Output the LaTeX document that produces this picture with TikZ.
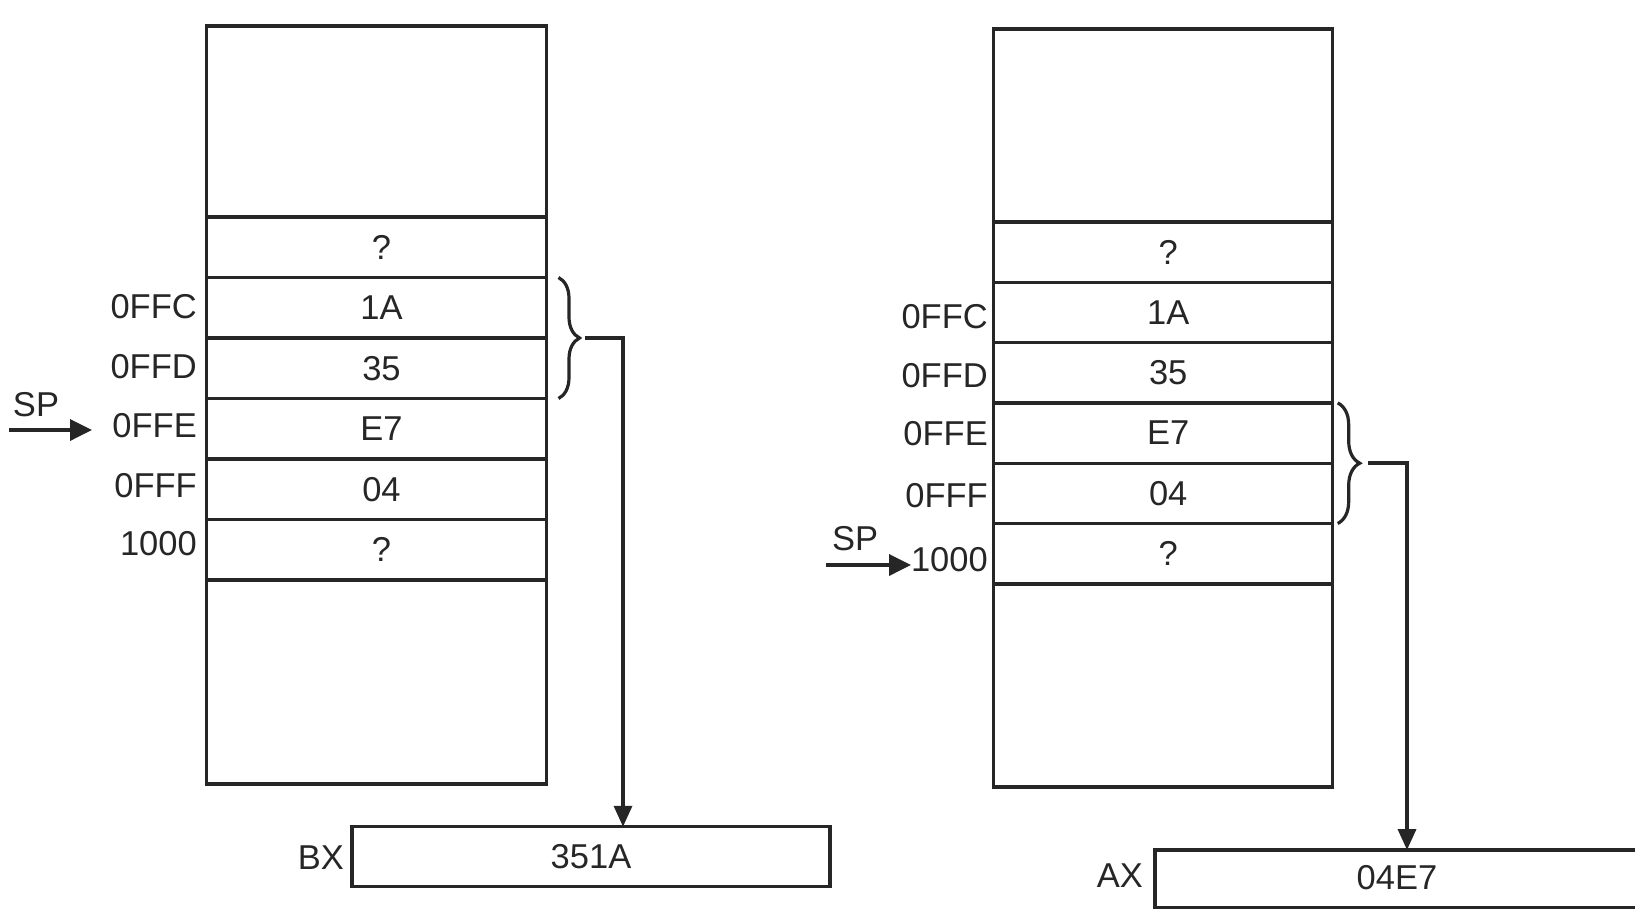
\documentclass[tikz,border=0pt]{standalone}
\usepackage{fontspec}
\setmainfont{Liberation Sans}
\usetikzlibrary{arrows.meta,decorations.pathreplacing,calc}
\definecolor{ink}{HTML}{262626}
\begin{document}
\begin{tikzpicture}[x=1pt,y=-1pt,
  every node/.style={font=\fontsize{34.5}{40}\selectfont, text=ink},
  cell/.style={draw=ink, line width=3.3pt, rectangle, inner sep=0pt, outer sep=0pt},
  lcell/.style={cell, minimum width=340pt, minimum height=60.5pt},
  rcell/.style={cell, minimum width=339pt, minimum height=60.3pt},
  addr/.style={anchor=east, inner sep=0pt},
  regbox/.style={cell, minimum height=60pt},
  conn/.style={draw=ink, line width=3.6pt, -{Triangle[length=21pt,width=18pt]}},
  sparrow/.style={draw=ink, line width=3.6pt, -{Triangle[length=22pt,width=21pt]}},
  bracestyle/.style={draw=ink, line width=3.2pt, decorate, decoration={brace, amplitude=#1}},
]
\useasboundingbox (0,0) rectangle (1635,908);

% ---------- left stack ----------
\node[cell, minimum width=340pt, minimum height=191pt] (LT) at (376.5,121.5) {};
\node[lcell, text width=340pt, align=center] (L1) at (376.5,247.25) {\hspace*{10pt}?};
\node[lcell, text width=340pt, align=center] (L2) at (376.5,307.75) {\hspace*{10pt}1A};
\node[lcell, text width=340pt, align=center] (L3) at (376.5,368.25) {\hspace*{10pt}35};
\node[lcell, text width=340pt, align=center] (L4) at (376.5,428.75) {\hspace*{10pt}E7};
\node[lcell, text width=340pt, align=center] (L5) at (376.5,489.25) {\hspace*{10pt}04};
\node[lcell, text width=340pt, align=center] (L6) at (376.5,549.75) {\hspace*{10pt}?};
\node[cell, minimum width=340pt, minimum height=204pt] (LB) at (376.5,682) {};

\node[addr] (la2) at (197,307) {0FFC};
\node[addr] (la3) at (197,367) {0FFD};
\node[addr] (la4) at (197,426) {0FFE};
\node[addr] (la5) at (197,486) {0FFF};
\node[addr] (la6) at (197,544) {1000};

\node (lsp) at (36,405) {SP};
\coordinate (lspstart) at (9,430);
\coordinate (lspend) at (92,430);
\draw[sparrow] (lspstart) -- (lspend);

\draw[bracestyle=21pt] ([xshift=12pt]L2.north east) -- ([xshift=12pt]L3.south east);
\coordinate (lbt) at (585,338);
\coordinate (lturn) at (623,338);

\node[regbox, minimum width=478pt] (BX) at (591,856.75) {351A};
\node[anchor=east, inner sep=0pt] (bxl) at (344,858) {BX};
\draw[conn] (lbt) -- (lturn) -- (lturn |- BX.north);

% ---------- right stack ----------
\node[cell, minimum width=339pt, minimum height=193pt] (RT) at (1163.2,125.5) {};
\node[rcell, text width=339pt, align=center] (R1) at (1163.2,252.15) {\hspace*{10pt}?};
\node[rcell, text width=339pt, align=center] (R2) at (1163.2,312.45) {\hspace*{10pt}1A};
\node[rcell, text width=339pt, align=center] (R3) at (1163.2,372.75) {\hspace*{10pt}35};
\node[rcell, text width=339pt, align=center] (R4) at (1163.2,433.05) {\hspace*{10pt}E7};
\node[rcell, text width=339pt, align=center] (R5) at (1163.2,493.35) {\hspace*{10pt}04};
\node[rcell, text width=339pt, align=center] (R6) at (1163.2,553.65) {\hspace*{10pt}?};
\node[cell, minimum width=339pt, minimum height=203pt] (RB) at (1163.2,685.5) {};

\node[addr] (ra2) at (988,317) {0FFC};
\node[addr] (ra3) at (988,376) {0FFD};
\node[addr] (ra4) at (988,434) {0FFE};
\node[addr] (ra5) at (988,496) {0FFF};
\node[addr] (ra6) at (988,560) {1000};

\node (rsp) at (855,539) {SP};
\coordinate (rspstart) at (826,565);
\coordinate (rspend) at (911,565);
\draw[sparrow] (rspstart) -- (rspend);

\draw[bracestyle=22pt] ([xshift=5pt]R4.north east) -- ([xshift=5pt]R5.south east);
\coordinate (rbt) at (1368,463);
\coordinate (rturn) at (1407,463);

\node[regbox, minimum width=500pt, minimum height=58pt, anchor=north west] (AX) at (1155,850) {};
\node (axv) at (1397,878) {04E7};
\node[anchor=east, inner sep=0pt] (axl) at (1143,876) {AX};
\draw[conn] (rbt) -- (rturn) -- (rturn |- AX.north);
\end{tikzpicture}
\end{document}
